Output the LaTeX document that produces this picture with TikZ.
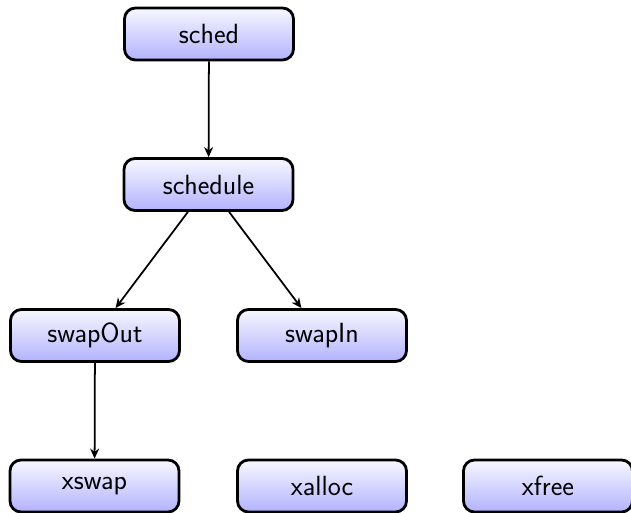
\documentclass[tikz,border=0pt]{standalone}
\usepackage{tikz}
\usetikzlibrary{arrows.meta}

\tikzset{
  proc/.style={draw, line width=1.6pt, rounded corners=0.22cm,
    minimum width=3.38cm, minimum height=1.04cm,
    top color=blue!3, bottom color=blue!30,
    font=\sffamily\fontsize{15.8}{19}\selectfont},
}

\begin{document}
\begin{tikzpicture}[>={Stealth[length=2mm,width=1.8mm]}]
      \useasboundingbox (0,0) rectangle (12.62,10.26);
      \draw
        (4.18,9.58) node[proc] (sched){sched}
        (4.17,6.57) node[proc] (schedule){schedule}
        (1.90,3.55) node[proc] (swapOut){swapOut}
        (6.44,3.55) node[proc] (swapIn){swapIn}
        (1.89,0.54) node[proc] (xswap){xswap}
        (6.44,0.54) node[proc] (xalloc){xalloc}
        (10.96,0.54) node[proc] (xfree){xfree};
      \begin{scope}[->, line width=1pt]
        \draw (sched) to (schedule);
        \draw (schedule) to (swapOut);
        \draw (schedule) to (swapIn);
        \draw (swapOut) to (xswap);
      \end{scope}
    \end{tikzpicture}
\end{document}
